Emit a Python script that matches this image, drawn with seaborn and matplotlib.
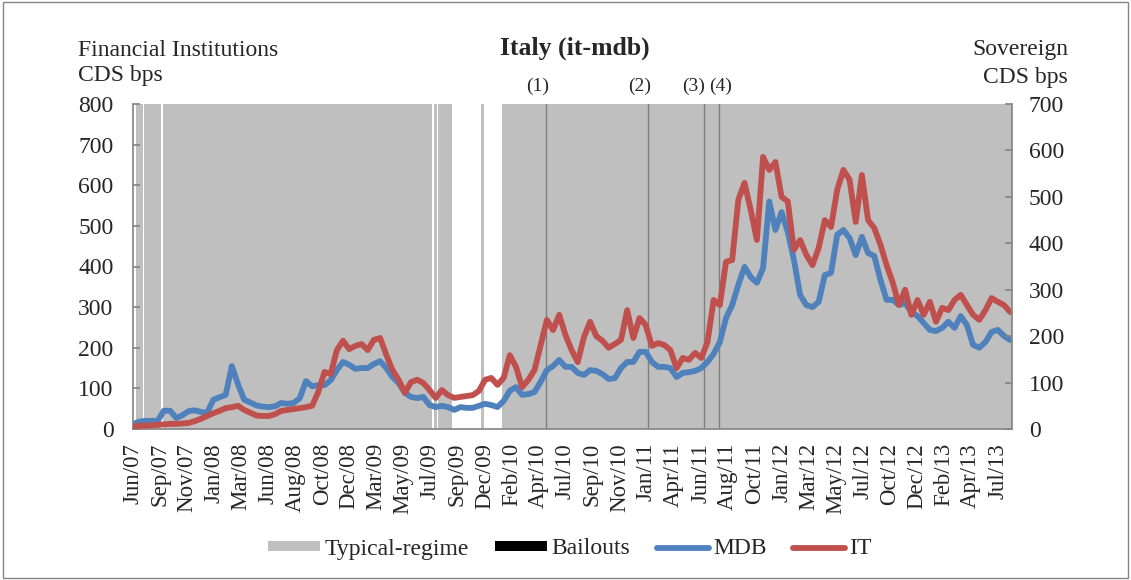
import numpy as np
import pandas as pd
import seaborn as sns
import matplotlib.pyplot as plt
import matplotlib.transforms as mtransforms
from matplotlib.patches import Patch, Rectangle
from matplotlib.lines import Line2D

# Mediobanca CDS (left axis, bps), one value per observation
mdb = [12, 18, 20, 20, 20, 45, 45, 27, 34, 44, 46, 42, 40, 72, 78, 84, 155, 110, 72, 65,
       58, 55, 54, 56, 64, 62, 64, 76, 118, 105, 108, 108, 120, 145, 165, 158, 148, 150, 150, 160,
       167, 150, 128, 113, 89, 79, 76, 79, 59, 54, 57, 54, 47, 54, 52, 52, 57, 62, 59, 54,
       69, 94, 103, 84, 86, 91, 116, 145, 155, 170, 153, 153, 138, 133, 145, 143, 135, 123, 125, 150,
       165, 165, 190, 190, 165, 153, 153, 150, 128, 138, 140, 143, 150, 165, 185, 214, 273, 305, 355, 399,
       374, 360, 396, 560, 490, 534, 485, 416, 330, 305, 300, 313, 379, 384, 478, 490, 470, 428, 473, 433,
       426, 367, 318, 318, 305, 310, 288, 278, 261, 244, 241, 249, 264, 249, 278, 256, 207, 200, 214, 239,
       244, 229, 219]

# Italian sovereign CDS (right axis, bps)
it_cds = [5, 7, 7, 8, 9, 10, 11, 11, 12, 13, 17, 22, 28, 34, 39, 45, 47, 50, 41, 35,
          29, 28, 28, 32, 39, 41, 43, 45, 47, 50, 80, 123, 118, 170, 190, 172, 179, 183, 170, 192,
          196, 160, 127, 106, 78, 101, 106, 99, 84, 67, 84, 73, 67, 69, 71, 73, 82, 106, 110, 95,
          110, 159, 134, 90, 106, 127, 181, 235, 213, 246, 203, 170, 144, 198, 231, 200, 190, 175, 183, 192,
          256, 196, 239, 224, 179, 185, 181, 170, 131, 153, 149, 164, 153, 187, 278, 267, 360, 364, 494, 530,
          472, 407, 586, 558, 575, 500, 490, 386, 407, 375, 353, 390, 450, 435, 515, 558, 537, 446, 547, 450,
          433, 397, 353, 315, 267, 300, 246, 278, 246, 274, 231, 261, 256, 278, 289, 267, 246, 235, 256, 282,
          274, 267, 252]

tick_labels = ["Jun/07", "Sep/07", "Nov/07", "Jan/08", "Mar/08", "Jun/08", "Aug/08", "Oct/08",
               "Dec/08", "Mar/09", "May/09", "Jul/09", "Sep/09", "Dec/09", "Feb/10", "Apr/10",
               "Jul/10", "Sep/10", "Nov/10", "Jan/11", "Apr/11", "Jun/11", "Aug/11", "Oct/11",
               "Jan/12", "Mar/12", "May/12", "Jul/12", "Oct/12", "Dec/12", "Feb/13", "Apr/13", "Jul/13"]

# typical-regime periods, in observation index
regime_start = [0.5, 1.75, 4.9, 48.7, 49.4, 56.4, 59.8]
regime_end = [1.55, 4.6, 48.4, 49.2, 51.7, 56.8, 142.5]

# bailout events, in observation index
bailouts = [66.9, 83.4, 92.4, 94.8]
bailout_labels = ["(1)", "(2)", "(3)", "(4)"]

df = pd.DataFrame({"obs": np.arange(len(mdb)), "MDB": mdb, "IT": it_cds})

sns.set_theme(style="white")
plt.rcParams["font.family"] = ["Liberation Serif", "DejaVu Serif"]

blue = "#4F81BD"
red = "#C0504D"
shade = "#BFBFBF"
axis_grey = "#868686"
fs = 17

fig = plt.figure(figsize=(11.31, 5.8), dpi=100)
ax = fig.add_axes([133 / 1131, 1 - 429 / 580, (1012 - 133) / 1131, (429 - 104) / 580])
ax2 = ax.twinx()

for s, e in zip(regime_start, regime_end):
    ax.axvspan(s, e, color=shade, lw=0, zorder=0)
for b in bailouts:
    ax.axvline(b, color="#7F7F7F", lw=1, zorder=1)

sns.lineplot(data=df, x="obs", y="MDB", ax=ax, color=blue, lw=4.2, legend=False)
sns.lineplot(data=df, x="obs", y="IT", ax=ax2, color=red, lw=4.2, legend=False)

ax.set_xlim(0, 142.3)
ax.set_ylim(0, 800)
ax2.set_ylim(0, 700)
ax.set_yticks(range(0, 801, 100))
ax2.set_yticks(range(0, 701, 100))
ax.set_xticks(np.arange(len(tick_labels)) * 4.375)
ax.set_xticklabels(tick_labels, rotation=90)
ax.set_xlabel("")
ax.set_ylabel("")
ax2.set_ylabel("")

ax.tick_params(axis="y", direction="in", length=5, color=axis_grey, pad=14, labelsize=fs)
ax.tick_params(axis="x", length=0, pad=10, labelsize=16.5)
ax2.tick_params(axis="y", direction="in", length=5, color=axis_grey, pad=12, labelsize=fs)

for a in (ax, ax2):
    a.spines["top"].set_visible(False)
    for sp in ("left", "right", "bottom"):
        a.spines[sp].set_color(axis_grey)
ax.spines["right"].set_visible(False)
ax2.spines["left"].set_visible(False)
ax2.spines["bottom"].set_visible(False)

# header texts
fig.text(78 / 1131, 1 - 50 / 580, "Financial Institutions", fontsize=fs, ha="left", va="center")
fig.text(78 / 1131, 1 - 76 / 580, "CDS bps", fontsize=fs, ha="left", va="center")
fig.text(1068 / 1131, 1 - 50 / 580, "Sovereign", fontsize=fs, ha="right", va="center")
fig.text(1068 / 1131, 1 - 77 / 580, "CDS bps", fontsize=fs, ha="right", va="center")
fig.text(575 / 1131, 1 - 48 / 580, "Italy (it-mdb)", fontsize=18.5, fontweight="bold",
         ha="center", va="center")

trans = mtransforms.blended_transform_factory(ax.transData, fig.transFigure)
offsets = [-1.4, -1.4, -1.7, 0.4]
for b, lab, off in zip(bailouts, bailout_labels, offsets):
    ax.text(b + off, 1 - 86 / 580, lab, transform=trans, fontsize=14, ha="center", va="center")

handles = [Patch(facecolor=shade, edgecolor="none"),
           Patch(facecolor="black", edgecolor="none"),
           Line2D([], [], color=blue, lw=4.2),
           Line2D([], [], color=red, lw=4.2)]
fig.legend(handles, ["Typical-regime", "Bailouts", "MDB", "IT"], loc="center",
           bbox_to_anchor=(0.504, 1 - 549 / 580), ncol=4, frameon=False, fontsize=17,
           handlelength=2.2, handleheight=0.3, columnspacing=1.1, handletextpad=0.2)

fig.add_artist(Rectangle((0.003, 0.003), 0.994, 0.994, transform=fig.transFigure,
                         fill=False, edgecolor=axis_grey, lw=1))

fig.savefig("out.png", dpi=100)
